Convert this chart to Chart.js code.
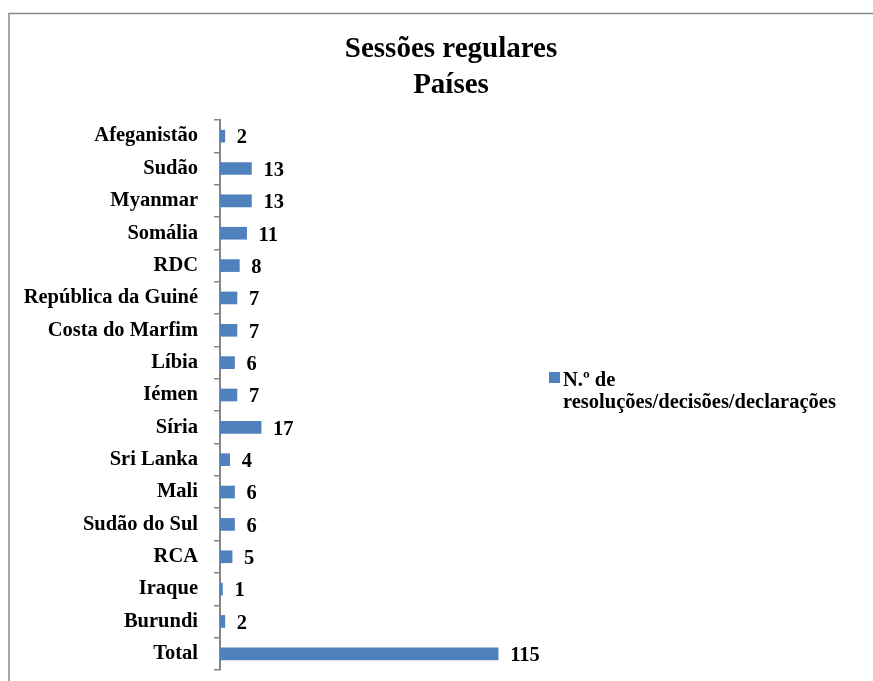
<!DOCTYPE html>
<html>
<head>
<meta charset="utf-8">
<script src="https://cdn.jsdelivr.net/npm/chart.js@4/dist/chart.umd.min.js"></script>
<style>
  html, body { margin: 0; padding: 0; background: #ffffff; }
  canvas { display: block; }
</style>
</head>
<body>
<canvas id="chart" width="873" height="681"></canvas>
<script>
// Country categories, top to bottom
const categories = [
  'Afeganistão', 'Sudão', 'Myanmar', 'Somália', 'RDC', 'República da Guiné',
  'Costa do Marfim', 'Líbia', 'Iémen', 'Síria', 'Sri Lanka', 'Mali',
  'Sudão do Sul', 'RCA', 'Iraque', 'Burundi', 'Total'
];
// Number of resolutions/decisions/declarations per country
const counts = [2, 13, 13, 11, 8, 7, 7, 6, 7, 17, 4, 6, 6, 5, 1, 2, 115];
const seriesLabel = ['N.º de', 'resoluções/decisões/declarações'];
const titleLines = ['Sessões regulares', 'Países'];

const FONT = "'Liberation Serif', 'Times New Roman', serif";
const BAR_COLOR = '#4F81BD';
const AXIS_COLOR = '#868686';

// Thin frame along the top and left edges
const framePlugin = {
  id: 'frame',
  beforeDraw(chart) {
    const ctx = chart.ctx;
    ctx.save();
    ctx.strokeStyle = '#8a8a8a';
    ctx.lineWidth = 1.5;
    ctx.beginPath();
    ctx.moveTo(9, chart.height);
    ctx.lineTo(9, 13.5);
    ctx.lineTo(chart.width, 13.5);
    ctx.stroke();
    ctx.restore();
  }
};

// Value labels to the right of each bar
const valueLabels = {
  id: 'valueLabels',
  afterDatasetsDraw(chart) {
    const ctx = chart.ctx;
    const meta = chart.getDatasetMeta(0);
    const data = chart.data.datasets[0].data;
    ctx.save();
    ctx.font = 'bold 20.5px ' + FONT;
    ctx.fillStyle = '#000000';
    ctx.textAlign = 'left';
    ctx.textBaseline = 'middle';
    meta.data.forEach((bar, i) => {
      ctx.fillText(String(data[i]), bar.x + 12, bar.y + 2);
    });
    ctx.restore();
  }
};

// Legend on the right with a two-line label
const sideLegend = {
  id: 'sideLegend',
  afterDraw(chart) {
    const ctx = chart.ctx;
    const ds = chart.data.datasets[0];
    ctx.save();
    ctx.fillStyle = ds.backgroundColor;
    ctx.fillRect(549, 372, 11, 11);
    ctx.font = 'bold 20.5px ' + FONT;
    ctx.fillStyle = '#000000';
    ctx.textAlign = 'left';
    ctx.textBaseline = 'alphabetic';
    ds.label.forEach((line, i) => {
      ctx.fillText(line, 563, 386 + i * 22);
    });
    ctx.restore();
  }
};

new Chart(document.getElementById('chart'), {
  type: 'bar',
  data: {
    labels: categories,
    datasets: [{
      label: seriesLabel,
      data: counts,
      backgroundColor: BAR_COLOR,
      borderWidth: 0,
      barThickness: 12
    }]
  },
  options: {
    indexAxis: 'y',
    responsive: false,
    animation: false,
    layout: { padding: { left: 20, right: -9, top: 0, bottom: 11 } },
    plugins: {
      legend: { display: false },
      tooltip: { enabled: false },
      title: {
        display: true,
        text: titleLines,
        color: '#000000',
        font: { family: FONT, size: 29, weight: 'bold', lineHeight: 36 / 29 },
        padding: { top: 32, bottom: 16 }
      }
    },
    scales: {
      x: {
        display: false,
        min: 0,
        max: 270
      },
      y: {
        afterFit(scale) {
          scale.width = 200;
          scale.paddingTop = 0;
          scale.paddingBottom = 0;
        },
        grid: {
          drawOnChartArea: false,
          drawTicks: true,
          tickLength: 6,
          color: AXIS_COLOR,
          lineWidth: 1.5
        },
        border: { display: true, color: AXIS_COLOR, width: 2 },
        ticks: {
          color: '#000000',
          padding: 16,
          font: { family: FONT, size: 20.5, weight: 'bold' }
        }
      }
    }
  },
  plugins: [framePlugin, valueLabels, sideLegend]
});
</script>
</body>
</html>
